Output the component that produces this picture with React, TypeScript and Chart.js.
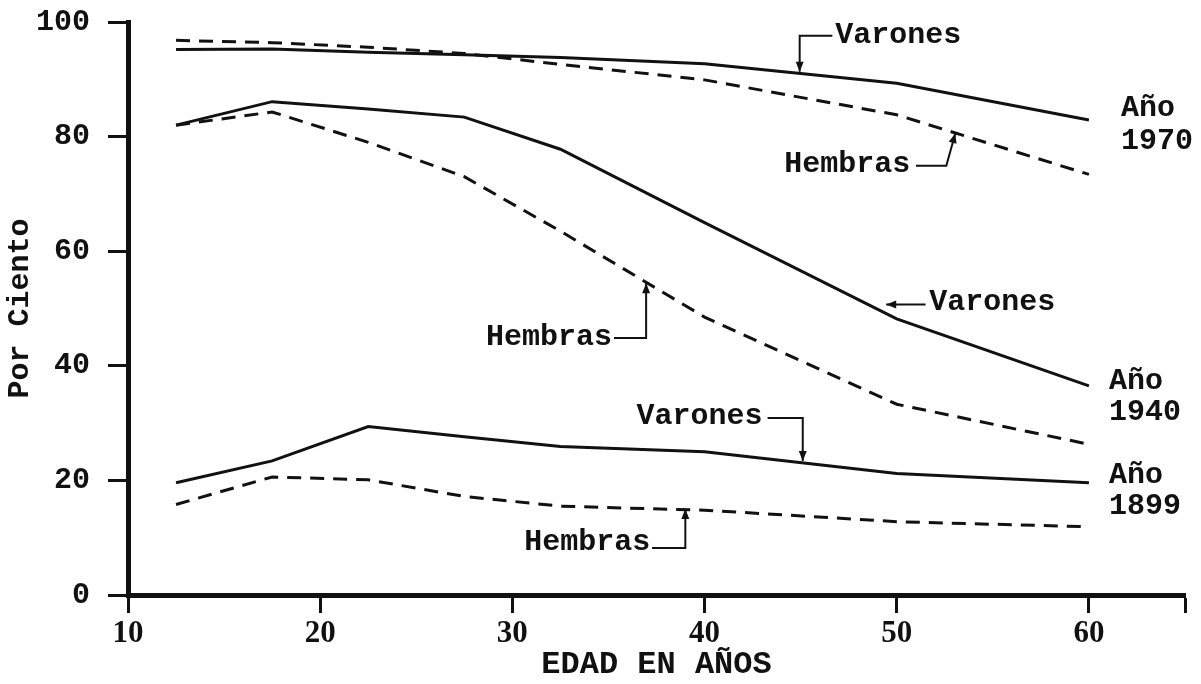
import React, { useEffect, useRef } from "react";
import { Chart, registerables } from "chart.js";

Chart.register(...registerables);

// ---- Data ----
const AGES = [12.5, 17.5, 22.5, 27.5, 32.5, 40, 50, 60];
const VARONES_1970 = [95.2, 95.3, 94.7, 94.3, 93.8, 92.7, 89.3, 82.9];
const HEMBRAS_1970 = [96.8, 96.4, 95.6, 94.5, 92.6, 89.9, 83.8, 73.4];
const VARONES_1940 = [82.0, 86.1, 84.8, 83.4, 77.8, 65.0, 48.2, 36.5];
const HEMBRAS_1940 = [82.0, 84.3, 79.0, 73.0, 63.5, 48.5, 33.3, 26.3];
const VARONES_1899 = [19.6, 23.4, 29.4, 27.6, 25.9, 25.0, 21.2, 19.6];
const HEMBRAS_1899 = [15.8, 20.6, 20.1, 17.2, 15.5, 14.8, 12.8, 11.9];

const X_TICKS = [10, 20, 30, 40, 50, 60, 65];
const X_TITLE = "EDAD EN AÑOS";
const Y_TITLE = "Por Ciento";

// ---- Annotations (data coordinates) ----
const LABELS = [
  { text: "Varones", x: 46.8, y: 97.6, align: "left" },
  { text: "Hembras", x: 50.7, y: 75.2, align: "right" },
  { text: "Año", x: 61.67, y: 85.0, align: "left" },
  { text: "1970", x: 61.67, y: 79.2, align: "left" },
  { text: "Varones", x: 51.69, y: 51.1, align: "left" },
  { text: "Año", x: 61.05, y: 37.2, align: "left" },
  { text: "1940", x: 61.05, y: 31.9, align: "left" },
  { text: "Hembras", x: 35.18, y: 45.0, align: "right" },
  { text: "Varones", x: 43.02, y: 31.1, align: "right" },
  { text: "Hembras", x: 37.17, y: 9.1, align: "right" },
  { text: "Año", x: 61.05, y: 20.8, align: "left" },
  { text: "1899", x: 61.05, y: 15.5, align: "left" },
];

const POINTERS = [
  [[46.65, 97.6], [44.95, 97.6], [44.95, 91.3]],
  [[51.0, 74.9], [52.58, 74.9], [53.05, 80.6]],
  [[51.5, 50.7], [49.45, 50.7]],
  [[35.29, 44.85], [36.96, 44.85], [36.96, 54.4]],
  [[43.28, 30.9], [45.11, 30.9], [45.11, 23.4]],
  [[37.27, 8.2], [39.0, 8.2], [39.0, 15.0]],
];

const MONO = "'Liberation Mono', 'DejaVu Sans Mono', monospace";
const SERIF = "'Liberation Serif', 'DejaVu Serif', serif";
const INK = "#111";

const toPts = (ys: number[]) => AGES.map((a, i) => ({ x: a, y: ys[i] }));

const annotationPlugin = {
  id: "annotations",
  afterDraw(chart: any) {
    const { ctx } = chart;
    const xs = chart.scales.x;
    const ys = chart.scales.y;
    ctx.save();
    ctx.fillStyle = INK;
    ctx.strokeStyle = INK;
    ctx.font = `bold 30px ${MONO}`;
    ctx.textBaseline = "middle";
    LABELS.forEach((l) => {
      ctx.textAlign = l.align;
      ctx.fillText(l.text, xs.getPixelForValue(l.x), ys.getPixelForValue(l.y));
    });
    ctx.lineWidth = 2;
    POINTERS.forEach((path) => {
      const pts = path.map(([a, b]) => [xs.getPixelForValue(a), ys.getPixelForValue(b)]);
      ctx.beginPath();
      pts.forEach(([px, py], i) => (i === 0 ? ctx.moveTo(px, py) : ctx.lineTo(px, py)));
      ctx.stroke();
      const [x1, y1] = pts[pts.length - 2];
      const [x2, y2] = pts[pts.length - 1];
      const ang = Math.atan2(y2 - y1, x2 - x1);
      const len = 10;
      const hw = 4;
      ctx.beginPath();
      ctx.moveTo(x2, y2);
      ctx.lineTo(
        x2 - len * Math.cos(ang) + hw * Math.sin(ang),
        y2 - len * Math.sin(ang) - hw * Math.cos(ang)
      );
      ctx.lineTo(
        x2 - len * Math.cos(ang) - hw * Math.sin(ang),
        y2 - len * Math.sin(ang) + hw * Math.cos(ang)
      );
      ctx.closePath();
      ctx.fill();
    });
    ctx.restore();
  },
};

export default function App() {
  const ref = useRef<HTMLCanvasElement | null>(null);

  useEffect(() => {
    document.body.style.margin = "0";
    document.body.style.background = "#fff";
    const canvas = ref.current;
    if (!canvas) return;

    const solid = (ys: number[]) => ({
      data: toPts(ys),
      borderColor: INK,
      borderWidth: 3,
      pointRadius: 0,
      tension: 0,
      fill: false,
    });
    const dashed = (ys: number[]) => ({
      ...solid(ys),
      borderWidth: 3,
      borderDash: [14, 9],
    });

    const chart = new Chart(canvas, {
      type: "line",
      data: {
        datasets: [
          { label: "Varones 1970", ...solid(VARONES_1970) },
          { label: "Hembras 1970", ...dashed(HEMBRAS_1970) },
          { label: "Varones 1940", ...solid(VARONES_1940) },
          { label: "Hembras 1940", ...dashed(HEMBRAS_1940) },
          { label: "Varones 1899", ...solid(VARONES_1899) },
          { label: "Hembras 1899", ...dashed(HEMBRAS_1899) },
        ],
      },
      options: {
        responsive: false,
        animation: false,
        layout: { padding: { top: 22, right: 16, bottom: 0, left: 0 } },
        plugins: {
          legend: { display: false },
          tooltip: { enabled: false },
        },
        scales: {
          x: {
            type: "linear",
            min: 10,
            max: 65,
            afterBuildTicks: (s: any) => {
              s.ticks = X_TICKS.map((v) => ({ value: v }));
            },
            afterFit: (s: any) => {
              s.height = 89;
              s.paddingLeft = 0;
              s.paddingRight = 0;
            },
            grid: {
              drawOnChartArea: false,
              drawTicks: true,
              tickLength: 18,
              tickWidth: 3,
              color: INK,
            },
            border: { display: true, color: INK, width: 5 },
            ticks: {
              color: INK,
              font: { family: SERIF, size: 31, weight: "bold" },
              padding: 2,
              maxRotation: 0,
              autoSkip: false,
              callback: (v: any) => (v === 65 ? "" : String(v)),
            },
            title: {
              display: true,
              text: X_TITLE,
              color: INK,
              font: { family: MONO, size: 32, weight: "bold" },
              padding: { top: 0, bottom: 0 },
            },
          },
          y: {
            min: 0,
            max: 100,
            afterFit: (s: any) => {
              s.width = 128;
              s.paddingTop = 0;
              s.paddingBottom = 0;
            },
            grid: {
              drawOnChartArea: false,
              drawTicks: true,
              tickLength: 20,
              tickWidth: 3,
              color: INK,
            },
            border: { display: true, color: INK, width: 5 },
            ticks: {
              stepSize: 20,
              color: INK,
              font: { family: MONO, size: 30, weight: "bold" },
              padding: 18,
            },
            title: {
              display: true,
              text: Y_TITLE,
              color: INK,
              font: { family: MONO, size: 30, weight: "bold" },
              padding: { top: 2, bottom: 0 },
            },
          },
        },
      },
      plugins: [annotationPlugin],
    } as any);

    return () => chart.destroy();
  }, []);

  return (
    <canvas
      ref={ref}
      width={1201}
      height={684}
      style={{ display: "block", width: 1201, height: 684 }}
    />
  );
}
